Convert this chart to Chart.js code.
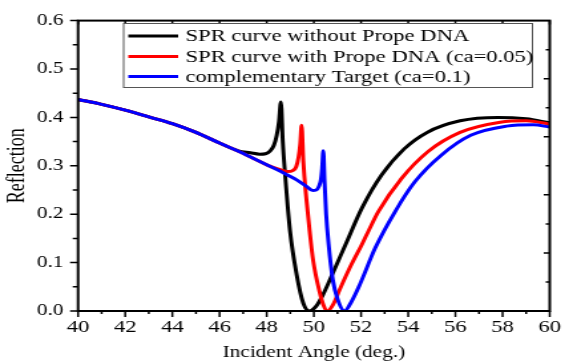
<!DOCTYPE html>
<html>
<head>
<meta charset="utf-8">
<script src="https://cdn.jsdelivr.net/npm/chart.js@4.4.1/dist/chart.umd.min.js"></script>
<style>
  html, body { margin: 0; padding: 0; background: #fff; }
  /* the reference is stretched sideways, so draw narrow and widen it */
  #wrap { width: 428px; height: 363px; transform: scaleX(1.32944); transform-origin: 0 0; }
</style>
</head>
<body>
<div id="wrap"><canvas id="trends"></canvas></div>
<script>
var xTicks = [40, 42, 44, 46, 48, 50, 52, 54, 56, 58, 60];
var yTicks = [0.0, 0.1, 0.2, 0.3, 0.4, 0.5, 0.6];

var seriesNames = [
    'SPR curve without Prope DNA',
    'SPR curve with Prope DNA (ca=0.05)',
    'complementary Target (ca=0.1)'
];

var blackAngle = [40, 41, 42, 43, 44, 45, 46, 46.8, 47.3, 47.7, 47.95, 48.15, 48.3, 48.42, 48.52, 48.6, 48.68, 48.77, 48.99, 49.27, 49.55, 49.8, 50.1, 50.4, 50.8, 51.35, 52.04, 52.87, 53.83, 54.8, 56.2, 57.8, 59.0, 60];
var blackRefl = [0.437, 0.427, 0.415, 0.401, 0.387, 0.369, 0.347, 0.331, 0.327, 0.324, 0.325, 0.331, 0.342, 0.362, 0.392, 0.432, 0.35, 0.288, 0.165, 0.075, 0.016, 0.0, 0.01, 0.035, 0.078, 0.138, 0.213, 0.281, 0.335, 0.369, 0.393, 0.400, 0.397, 0.389];

var redAngle = [40, 41, 42, 43, 44, 45, 46, 46.8, 47.4, 48.0, 48.5, 48.9, 49.1, 49.25, 49.35, 49.42, 49.48, 49.55, 49.69, 49.82, 49.97, 50.24, 50.4, 50.57, 50.8, 51.1, 51.6, 52.04, 52.33, 52.74, 53.72, 54.83, 56.2, 57.9, 59.0, 60];
var redRefl = [0.437, 0.427, 0.415, 0.401, 0.387, 0.369, 0.347, 0.330, 0.316, 0.302, 0.293, 0.288, 0.290, 0.298, 0.318, 0.345, 0.384, 0.31, 0.227, 0.165, 0.104, 0.04, 0.013, 0.0, 0.012, 0.045, 0.097, 0.138, 0.167, 0.206, 0.274, 0.329, 0.369, 0.390, 0.393, 0.386];

var blueAngle = [40, 41, 42, 43, 44, 45, 46, 46.8, 47.4, 48.0, 48.6, 49.27, 49.7, 49.95, 50.1, 50.22, 50.3, 50.35, 50.4, 50.45, 50.52, 50.62, 50.8, 51.0, 51.3, 51.6, 51.95, 52.6, 53.45, 54.28, 55.4, 56.65, 58.17, 59.3, 60];
var blueRefl = [0.437, 0.427, 0.415, 0.401, 0.387, 0.369, 0.347, 0.330, 0.316, 0.302, 0.288, 0.271, 0.257, 0.249, 0.250, 0.258, 0.272, 0.295, 0.331, 0.27, 0.2, 0.14, 0.065, 0.025, 0.0, 0.02, 0.055, 0.13, 0.206, 0.267, 0.322, 0.363, 0.382, 0.385, 0.380];

var serif = "'Liberation Serif', 'Times New Roman', serif";
Chart.defaults.font.family = serif;
Chart.defaults.color = '#000';

function points(xs, ys) {
    return xs.map(function (v, i) { return { x: v, y: ys[i] }; });
}

function line(label, color, xs, ys, order) {
    return {
        label: label,
        data: points(xs, ys),
        borderColor: color,
        backgroundColor: color,
        borderWidth: 3,
        pointRadius: 0,
        fill: false,
        cubicInterpolationMode: 'monotone',
        order: order
    };
}

// box frame, inner ticks on top/right, minor ticks
var frame = {
    id: 'frame',
    afterDatasetsDraw: function (chart) {
        var ctx = chart.ctx, a = chart.chartArea;
        var xs = chart.scales.x, ys = chart.scales.y;
        ctx.save();
        ctx.strokeStyle = '#000';
        ctx.lineWidth = 1.5;
        ctx.beginPath();
        for (var d = 40; d <= 60; d++) {
            var px = xs.getPixelForValue(d);
            var major = d % 2 === 0;
            ctx.moveTo(px, a.bottom);
            ctx.lineTo(px, a.bottom + (major ? 6 : 3));
            if (major) {
                ctx.moveTo(px, a.top);
                ctx.lineTo(px, a.top + 4);
            }
        }
        for (var i = 0; i <= 12; i++) {
            var py = ys.getPixelForValue(i * 0.05);
            ctx.moveTo(a.left, py);
            ctx.lineTo(a.left - (i % 2 === 0 ? 6 : 4), py);
        }
        for (var k = 1; k < 10; k++) {
            var ry = ys.getPixelForValue(k * 0.06);
            ctx.moveTo(a.right, ry);
            ctx.lineTo(a.right - (k % 2 === 0 ? 4.5 : 3), ry);
        }
        ctx.stroke();
        ctx.lineWidth = 2;
        ctx.strokeRect(a.left, a.top, a.right - a.left, a.bottom - a.top);
        ctx.restore();
    }
};

var boxLegend = {
    id: 'boxLegend',
    afterDraw: function (chart) {
        var ctx = chart.ctx;
        var left = 92.5, top = 23, w = 307.5, h = 64;
        var rows = [36, 56.5, 76.5];
        ctx.save();
        ctx.fillStyle = '#fff';
        ctx.fillRect(left, top, w, h);
        ctx.strokeStyle = '#555';
        ctx.lineWidth = 1;
        ctx.strokeRect(left + 0.5, top + 0.5, w, h);
        ctx.font = '17px ' + serif;
        ctx.textBaseline = 'middle';
        chart.data.datasets.forEach(function (ds, i) {
            ctx.strokeStyle = ds.borderColor;
            ctx.lineWidth = 3;
            ctx.beginPath();
            ctx.moveTo(96.5, rows[i]);
            ctx.lineTo(134, rows[i]);
            ctx.stroke();
            ctx.fillStyle = '#000';
            ctx.fillText(ds.label, 139.5, rows[i] + 1);
        });
        ctx.restore();
    }
};

var ctx = document.getElementById('trends');
var myLineChart = new Chart(ctx, {
    type: 'line',
    data: {
        datasets: [
            line(seriesNames[0], '#000000', blackAngle, blackRefl, 2),
            line(seriesNames[1], '#ff0000', redAngle, redRefl, 1),
            line(seriesNames[2], '#0000ff', blueAngle, blueRefl, 0)
        ]
    },
    options: {
        responsive: true,
        maintainAspectRatio: false,
        animation: false,
        devicePixelRatio: 1,
        layout: { padding: { top: 17, right: 9, left: 0, bottom: 0 } },
        plugins: { legend: { display: false }, tooltip: { enabled: false } },
        scales: {
            x: {
                type: 'linear',
                min: 40,
                max: 60,
                afterFit: function (s) { s.height = 52; },
                afterBuildTicks: function (s) { s.ticks = xTicks.map(function (v) { return { value: v }; }); },
                grid: { display: false, drawTicks: false },
                border: { display: false },
                ticks: {
                    autoSkip: false,
                    maxRotation: 0,
                    padding: 6,
                    color: '#000',
                    font: { family: serif, size: 17 }
                },
                title: {
                    display: true,
                    text: 'Incident Angle (deg.)',
                    color: '#000',
                    font: { family: serif, size: 16 },
                    padding: { top: 0, bottom: 1 }
                }
            },
            y: {
                min: 0,
                max: 0.6,
                afterFit: function (s) { s.width = 58.7; },
                afterBuildTicks: function (s) { s.ticks = yTicks.map(function (v) { return { value: v }; }); },
                grid: { display: false, drawTicks: false },
                border: { display: false },
                ticks: {
                    padding: 11,
                    color: '#000',
                    font: { family: serif, size: 16 },
                    callback: function (v) { return Number(v).toFixed(1); }
                },
                title: {
                    display: true,
                    text: 'Reflection',
                    color: '#000',
                    font: { family: serif, size: 18 },
                    padding: { top: 2, bottom: 0 }
                }
            }
        }
    },
    plugins: [frame, boxLegend]
});
</script>
</body>
</html>
